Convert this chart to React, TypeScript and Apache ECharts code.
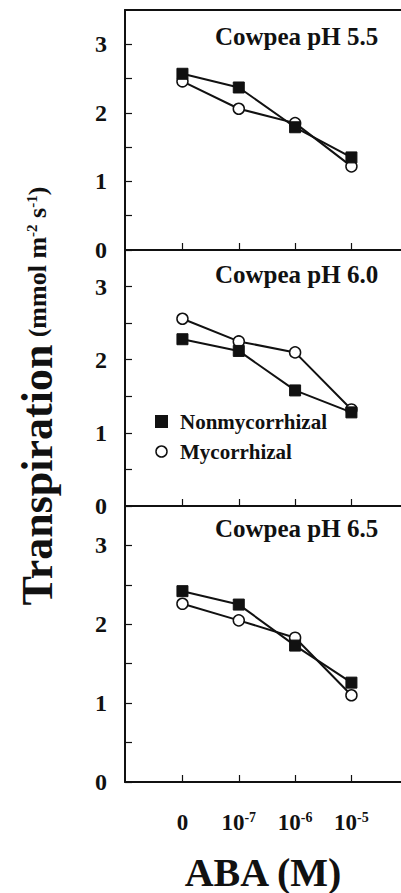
import React, { useEffect, useRef } from "react";
import * as echarts from "echarts";

// ---- data ----
const ABA_BASE = ["0", "10", "10", "10"];
const ABA_EXP = ["", "-7", "-6", "-5"];
const PANEL_TITLES = ["Cowpea pH 5.5", "Cowpea pH 6.0", "Cowpea pH 6.5"];
const SERIES_NAMES = ["Nonmycorrhizal", "Mycorrhizal"];

const NONMYC_55 = [2.57, 2.37, 1.79, 1.35];
const MYC_55 = [2.46, 2.06, 1.85, 1.22];
const NONMYC_60 = [2.28, 2.12, 1.58, 1.28];
const MYC_60 = [2.56, 2.25, 2.1, 1.32];
const NONMYC_65 = [2.42, 2.25, 1.73, 1.26];
const MYC_65 = [2.26, 2.05, 1.83, 1.1];

const Y_TICKS = [0, 1, 2, 3];
const Y_MINOR = [0, 0.5, 1, 1.5, 2, 2.5, 3];

const PANELS = [
  { non: NONMYC_55, myc: MYC_55 },
  { non: NONMYC_60, myc: MYC_60 },
  { non: NONMYC_65, myc: MYC_65 },
];

const FONT = '"Liberation Serif", "Times New Roman", serif';
const INK = "#111";

const GRID_LAYOUT = [
  { top: 10, height: 240 },
  { top: 250, height: 256 },
  { top: 506, height: 278 },
];

export default function App() {
  const ref = useRef<HTMLDivElement>(null);
  useEffect(() => {
    if (!ref.current) return;
    const chart = echarts.init(ref.current, null, { renderer: "svg" });
    const xIdx = ABA_BASE.map((_, i) => i);

    const grids = GRID_LAYOUT.map((g) => ({
      left: 125,
      width: 276,
      top: g.top,
      height: g.height,
      containLabel: false,
    }));

    const xAxes: any[] = GRID_LAYOUT.map((_, i) => ({
      type: "value",
      gridIndex: i,
      min: -1.02,
      max: 3.88,
      splitLine: { show: false },
      axisLine: { show: true, onZero: false, lineStyle: { color: INK, width: 2 } },
      axisTick: {
        show: true,
        inside: true,
        length: 7,
        customValues: xIdx,
        lineStyle: { color: INK, width: 1.2 },
      },
      axisLabel: {
        show: i === 2,
        customValues: xIdx,
        margin: 28,
        formatter: (v: number) => {
          const k = Math.round(v);
          return ABA_EXP[k] ? `{b|${ABA_BASE[k]}}{s|${ABA_EXP[k]}}` : `{b|${ABA_BASE[k]}}`;
        },
        rich: {
          b: { fontFamily: FONT, fontWeight: "bold", fontSize: 23, color: INK, lineHeight: 24 },
          s: {
            fontFamily: FONT,
            fontWeight: "bold",
            fontSize: 14,
            color: INK,
            verticalAlign: "top",
            lineHeight: 24,
          },
        },
      },
      name: i === 2 ? "ABA (M)" : "",
      nameLocation: "middle",
      nameGap: 70,
      nameTextStyle: { fontFamily: FONT, fontWeight: "bold", fontSize: 40, color: INK },
    }));
    xAxes.push({
      type: "value",
      gridIndex: 0,
      position: "top",
      min: -1.02,
      max: 3.88,
      splitLine: { show: false },
      axisLine: { show: true, onZero: false, lineStyle: { color: INK, width: 2 } },
      axisTick: { show: false },
      axisLabel: { show: false },
    });

    const yAxes = GRID_LAYOUT.map((_, i) => ({
      type: "value",
      gridIndex: i,
      position: "left",
      min: 0,
      max: 3.5,
      splitLine: { show: false },
      axisLine: { show: true, onZero: false, lineStyle: { color: INK, width: 2 } },
      axisTick: {
        show: true,
        inside: true,
        length: 7,
        customValues: Y_MINOR,
        lineStyle: { color: INK, width: 1.2 },
      },
      axisLabel: {
        customValues: Y_TICKS,
        margin: 18,
        fontFamily: FONT,
        fontWeight: "bold",
        fontSize: 24,
        color: INK,
      },
    }));

    const series: any[] = [];
    PANELS.forEach((p, i) => {
      series.push({
        type: "line",
        name: SERIES_NAMES[1],
        xAxisIndex: i,
        yAxisIndex: i,
        data: p.myc.map((v, k) => [xIdx[k], v]),
        symbol: "circle",
        symbolSize: 11,
        lineStyle: { color: INK, width: 2 },
        itemStyle: { color: "#fff", borderColor: INK, borderWidth: 1.5 },
        z: 2,
      });
      series.push({
        type: "line",
        name: SERIES_NAMES[0],
        xAxisIndex: i,
        yAxisIndex: i,
        data: p.non.map((v, k) => [xIdx[k], v]),
        symbol: "rect",
        symbolSize: 11,
        lineStyle: { color: INK, width: 2 },
        itemStyle: { color: INK, borderColor: INK, borderWidth: 1 },
        z: 3,
      });
    });

    const titleTops = [24, 262, 516];
    const titles = PANEL_TITLES.map((t, i) => ({
      text: t,
      left: 215,
      top: titleTops[i],
      padding: 0,
      textStyle: { fontFamily: FONT, fontWeight: "bold", fontSize: 25, color: INK },
    }));

    chart.setOption({
      animation: false,
      backgroundColor: "#fff",
      title: titles,
      grid: grids,
      xAxis: xAxes,
      yAxis: yAxes,
      series,
      legend: {
        left: 155,
        top: 410,
        orient: "vertical",
        padding: 0,
        itemGap: 7,
        itemWidth: 11,
        itemHeight: 11,
        data: [
          { name: SERIES_NAMES[0], icon: "rect", itemStyle: { color: INK, borderColor: INK } },
          {
            name: SERIES_NAMES[1],
            icon: "circle",
            itemStyle: { color: "#fff", borderColor: INK, borderWidth: 1.5 },
          },
        ],
        textStyle: {
          fontFamily: FONT,
          fontWeight: "bold",
          fontSize: 21,
          color: INK,
          lineHeight: 23,
          padding: [0, 0, 0, 8],
        },
      },
      graphic: [
        {
          type: "text",
          x: 37,
          y: 475,
          rotation: Math.PI / 2,
          style: {
            text: "Transpiration",
            fontFamily: FONT,
            fontWeight: "bold",
            fontSize: 44,
            fill: INK,
            align: "center",
            verticalAlign: "middle",
            textAlign: "center",
            textVerticalAlign: "middle",
          },
        },
        {
          type: "text",
          x: 37,
          y: 262,
          rotation: Math.PI / 2,
          style: {
            text: "(mmol m{s|-2} s{s|-1})",
            fontFamily: FONT,
            fontWeight: "bold",
            fontSize: 26,
            fill: INK,
            align: "center",
            verticalAlign: "middle",
            textAlign: "center",
            textVerticalAlign: "middle",
            rich: {
              s: {
                fontFamily: FONT,
                fontWeight: "bold",
                fontSize: 15,
                fill: INK,
                verticalAlign: "top",
              },
            },
          },
        },
      ],
    });
    return () => chart.dispose();
  }, []);
  return (
    <div
      ref={ref}
      style={{ position: "absolute", left: 0, top: 0, width: 401, height: 893, background: "#fff" }}
    />
  );
}
